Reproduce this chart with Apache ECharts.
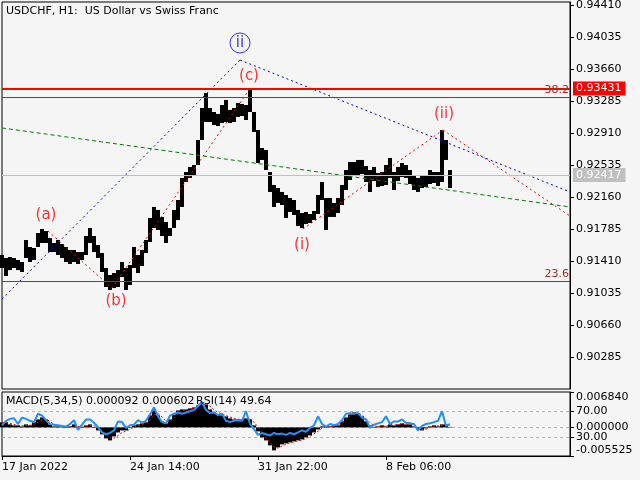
<!DOCTYPE html>
<html><head><meta charset="utf-8">
<script src="https://cdn.jsdelivr.net/npm/echarts@6/dist/echarts.min.js"></script>
<style>html,body{margin:0;padding:0;background:#f5f5f5}#c{width:640px;height:480px}</style>
</head><body><div id="c"></div>
<script>
// ---- data (one drawn bar = 4 H1 bars) ----
const priceHigh = [
0.91480,0.91445,0.91457,0.91445,0.91422,0.91398,0.91656,0.91574,0.91562,0.91738,
0.91785,0.91761,0.91679,0.91621,0.91656,0.91609,0.91574,0.91539,0.91539,0.91515,
0.91515,0.91703,0.91797,0.91703,0.91597,0.91504,0.91328,0.91246,0.91269,0.91304,
0.91398,0.91328,0.91363,0.91574,0.91480,0.91539,0.91656,0.91914,0.92043,0.92008,
0.91926,0.91867,0.91797,0.92008,0.92125,0.92383,0.92453,0.92512,0.92535,0.92828,
0.93203,0.93379,0.93203,0.93156,0.93133,0.93238,0.93297,0.93180,0.93203,0.93262,
0.93250,0.93238,0.93414,0.93156,0.92945,0.92734,0.92711,0.92453,0.92301,0.92265,
0.92219,0.92183,0.92148,0.92125,0.92008,0.91972,0.91984,0.91961,0.91996,0.92183,
0.92336,0.92148,0.92148,0.92090,0.92148,0.92301,0.92476,0.92570,0.92570,0.92594,
0.92594,0.92523,0.92476,0.92512,0.92441,0.92453,0.92535,0.92617,0.92453,0.92512,
0.92558,0.92535,0.92476,0.92406,0.92383,0.92418,0.92406,0.92476,0.92453,0.92453,
0.92945,0.92828,0.92476];
const priceLow = [
0.91328,0.91234,0.91304,0.91328,0.91304,0.91281,0.91445,0.91398,0.91422,0.91574,
0.91621,0.91621,0.91515,0.91515,0.91480,0.91445,0.91398,0.91375,0.91398,0.91375,
0.91422,0.91480,0.91621,0.91515,0.91445,0.91281,0.91105,0.91070,0.91093,0.91105,
0.91222,0.91070,0.91129,0.91328,0.91269,0.91351,0.91504,0.91633,0.91797,0.91773,
0.91703,0.91621,0.91703,0.91797,0.91890,0.92043,0.92336,0.92383,0.92406,0.92535,
0.92828,0.93039,0.93039,0.93004,0.92992,0.93027,0.93039,0.93027,0.93039,0.93098,
0.93109,0.93062,0.93156,0.92922,0.92558,0.92594,0.92476,0.92219,0.92043,0.92090,
0.92066,0.91914,0.91984,0.91949,0.91820,0.91797,0.91844,0.91855,0.91890,0.91961,
0.92125,0.91773,0.91926,0.91926,0.91972,0.92066,0.92242,0.92359,0.92406,0.92406,
0.92429,0.92336,0.92219,0.92347,0.92277,0.92289,0.92301,0.92383,0.92242,0.92347,
0.92394,0.92383,0.92312,0.92242,0.92219,0.92265,0.92277,0.92312,0.92324,0.92289,
0.92336,0.92594,0.92265];
const macdMain = [
0.00097,0.00097,0.00058,0.00039,0.00039,0.00019,0.00058,0.00039,0.00097,0.00154,
0.00193,0.00154,0.00058,0.00019,0.00019,0.0001,0,0.00019,0.00058,-0.00019,
0,0.00039,0.00058,0,-0.00058,-0.00135,-0.00212,-0.00251,-0.00174,-0.00097,
-0.00058,-0.00058,0,0.00039,0.00058,0.00077,0.00097,0.00232,0.00328,0.00232,
0.00116,0.00077,0.00154,0.00251,0.00328,0.00347,0.00347,0.00367,0.00386,0.00425,
0.00483,0.00444,0.00347,0.0029,0.00251,0.00232,0.00212,0.00174,0.00154,0.00154,
0.00154,0.00174,0.00154,0.00039,-0.00077,-0.00193,-0.00251,-0.00347,-0.00444,-0.00386,
-0.00328,-0.00309,-0.0029,-0.0027,-0.00251,-0.00232,-0.00193,-0.00154,-0.00097,-0.00039,
0.00019,0.00019,0.00019,0.00039,0.00039,0.00116,0.00193,0.00251,0.0029,0.0027,
0.00212,0.00116,0.00039,0,0.00019,0.00039,0.00019,0.00058,0.00039,0.00058,
0.00077,0.00058,0.00058,0.00019,-0.00039,-0.00058,-0.00019,0.00019,0.00039,0.00019,
0.00058,0.00058,0.000092];
const macdSignal = [
0.00090,0.00095,0.00080,0.00055,0.00042,0.00030,0.00035,0.00040,0.00060,0.00100,
0.00150,0.00165,0.00115,0.00060,0.00030,0.00015,0.00008,0.00010,0.00030,0.00020,
0.00005,0.00015,0.00035,0.00030,-0.00010,-0.00070,-0.00140,-0.00200,-0.00210,-0.00160,
-0.00100,-0.00070,-0.00035,0.00005,0.00035,0.00060,0.00080,0.00140,0.00240,0.00270,
0.00200,0.00120,0.00120,0.00180,0.00260,0.00320,0.00340,0.00355,0.00370,0.00400,
0.00445,0.00455,0.00410,0.00340,0.00290,0.00255,0.00230,0.00200,0.00170,0.00158,
0.00155,0.00160,0.00160,0.00100,0.00010,-0.00110,-0.00200,-0.00290,-0.00380,-0.00400,
-0.00360,-0.00325,-0.00300,-0.00280,-0.00262,-0.00245,-0.00215,-0.00175,-0.00125,-0.00070,
-0.00015,0.00010,0.00018,0.00028,0.00036,0.00075,0.00150,0.00215,0.00265,0.00275,
0.00240,0.00170,0.00090,0.00030,0.00015,0.00028,0.00028,0.00040,0.00045,0.00050,
0.00065,0.00065,0.00060,0.00040,0.00000,-0.00040,-0.00035,0.00000,0.00025,0.00030,
0.00040,0.00055,0.000602];
const rsiValues = [
48,55,58,59,50,60,58,55,53,66,
63,56,50,49,48,47,46,50,56,41,
49,57,57,52,45,37,34,36,40,54,
53,44,48,49,56,52,55,65,76,62,
53,51,63,66,68,66,68,70,72,78,
84,72,67,68,64,66,55,53,55,56,
55,70,50,42,33,36,34,32,36,34,
35,33,36,34,37,40,38,44,48,62,
50,46,50,48,50,56,66,67,66,67,
60,57,44,49,51,53,62,50,54,54,
57,52,51,50,40,47,50,51,53,55,
70,47,49.64];

const priceTicks = [0.90285,0.90660,0.91035,0.91410,0.91785,0.92160,0.92535,0.92910,0.93285,0.93660,0.94035,0.94410];
const timeTicks = [0,128,256,384];
const timeLabels = ['17 Jan 2022','24 Jan 14:00','31 Jan 22:00','8 Feb 06:00'];
const macdTicks = [-0.005525, 0, 0.006840];
const rsiTicks = [30, 70];

const resistanceLevel = 0.93431;
const lastPrice = 0.92417;
const fibLevels = [0.93332, 0.91176];
const fibNames = ['38.2', '23.6'];

const blueLineA = [[0,0.90965],[238,0.93765]];
const blueLineB = [[238,0.93765],[568,0.92219]];
const greenLine = [[0,0.92969],[568,0.92043]];
const redLineAB = [[46,0.91761],[110,0.91093]];
const redLineBC = [[110,0.91093],[247,0.93414]];
const redLineIII = [[301,0.91785],[441,0.92945]];
const redLineIIOut = [[441,0.92945],[568,0.91937]];

const waveNames = ['(a)','(b)','(c)','(i)','(ii)'];
const waveBars = [44,114,247,300,442];
const wavePrices = [0.91949,0.90941,0.93578,0.91597,0.93133];
const majorWave = {name:'ii', bar:238, price:0.93965};

// ---- build ----
const STEP = 4;
const X_END = 568;
const FONT = 'DejaVu Sans';
const priceData = priceHigh.map((h,i)=>[i*STEP, priceLow[i], h]);
const macdData = macdMain.map((v,i)=>[i*STEP, v]);
const sigData = macdSignal.map((v,i)=>[i*STEP, v]);
const rsiData = rsiValues.map((v,i)=>[i*STEP, v]);

function trend(data, color, dash){
  return {type:'line', xAxisIndex:0, yAxisIndex:0, data, symbol:'none', z:4, silent:true,
    lineStyle:{color, width:1, type:dash}, clip:true};
}
const txt = {fontSize:11, fontWeight:'normal', color:'#000', fontFamily:FONT};

const chart = echarts.init(document.getElementById('c'), null, {renderer:'canvas'});
chart.setOption({
  animation:false,
  backgroundColor:'#f5f5f5',
  textStyle:{fontFamily:FONT},
  title:[
    {text:'USDCHF, H1:  US Dollar vs Swiss Franc', left:6, top:6, padding:0, textStyle:txt},
    {text:'MACD(5,34,5) '+macdMain[macdMain.length-1].toFixed(6)+' '+macdSignal[macdSignal.length-1].toFixed(6),
     left:6, top:396, padding:0, textStyle:txt},
    {text:'RSI(14) '+rsiValues[rsiValues.length-1].toFixed(2), left:196, top:396, padding:0, textStyle:txt}
  ],
  grid:[
    {left:2, right:70, top:2, height:387, show:true, borderColor:'#000', borderWidth:1, outerBoundsMode:'none'},
    {left:2, right:70, top:392, height:64, show:true, borderColor:'#000', borderWidth:1, outerBoundsMode:'none'}
  ],
  xAxis:[
    {type:'value', gridIndex:0, min:0, max:X_END, axisLine:{show:false, onZero:false}, axisTick:{show:false}, axisLabel:{show:false}, splitLine:{show:false}},
    {type:'value', gridIndex:1, min:0, max:X_END, position:'bottom', axisLine:{show:true, onZero:false, lineStyle:{color:'#000'}},
     axisTick:{show:true, customValues:timeTicks, length:4, lineStyle:{color:'#000'}},
     axisLabel:{customValues:timeTicks, formatter:v=>{const k=timeTicks.indexOf(v);return k>=0?timeLabels[k]:'';},
       align:'left', margin:6, color:'#000', fontSize:11, fontFamily:FONT},
     splitLine:{show:false}}
  ],
  yAxis:[
    {type:'value', gridIndex:0, position:'right', min:0.8991, max:0.94445,
     axisLine:{show:true, onZero:false, lineStyle:{color:'#000'}},
     axisTick:{show:false},
     axisLabel:{customValues:priceTicks, formatter:v=>v.toFixed(5), margin:6, color:'#000', fontSize:11, fontFamily:FONT},
     splitLine:{show:false}},
    {type:'value', gridIndex:1, position:'right', min:-0.005525, max:0.00684, offset:0,
     axisLine:{show:true, onZero:false, lineStyle:{color:'#000'}},
     axisTick:{show:true, customValues:macdTicks, length:4, lineStyle:{color:'#000'}},
     axisLabel:{customValues:macdTicks, margin:6, color:'#000', fontSize:11, fontFamily:FONT,
       formatter:v=>{const s=v.toFixed(6); if(v===macdTicks[0]) return '{lo|'+s+'}'; if(v===macdTicks[2]) return '{hi|'+s+'}'; return s;},
       rich:{lo:{padding:[0,0,12,0], fontSize:11, fontFamily:FONT, color:'#000'}, hi:{padding:[10,0,0,0], fontSize:11, fontFamily:FONT, color:'#000'}}},
     splitLine:{show:false}},
    {type:'value', gridIndex:1, position:'right', min:0, max:100, offset:0,
     axisLine:{show:false, onZero:false},
     axisTick:{show:true, customValues:rsiTicks, length:4, lineStyle:{color:'#000'}},
     axisLabel:{customValues:rsiTicks, formatter:v=>v.toFixed(2), margin:6, color:'#000', fontSize:11, fontFamily:FONT},
     splitLine:{show:false}}
  ],
  series:[
    {type:'line', xAxisIndex:0, yAxisIndex:0, data:[[0,lastPrice],[X_END,lastPrice]], symbol:'none', z:2,
     lineStyle:{width:0, opacity:0}, silent:true,
     markLine:{silent:true, symbol:['none','none'], precision:5, animation:false,
       data:[
        {yAxis:lastPrice, lineStyle:{color:'#c0c0c0', width:1, type:'solid'},
         label:{show:true, position:'end', distance:3, formatter:p=>Number(p.value).toFixed(5), color:'#fff', backgroundColor:'#c0c0c0',
                padding:[2,4,1,3], fontSize:11, fontFamily:FONT}},
        {name:fibNames[0], yAxis:fibLevels[0], lineStyle:{color:'#a52a2a', width:1, type:'solid'},
         label:{show:true, position:'insideEndTop', distance:1, formatter:'{b}', color:'#a52a2a', fontSize:11, fontFamily:FONT}},
        {name:fibNames[1], yAxis:fibLevels[1], lineStyle:{color:'#a52a2a', width:1, type:'solid'},
         label:{show:true, position:'insideEndTop', distance:1, formatter:'{b}', color:'#a52a2a', fontSize:11, fontFamily:FONT}},
        {yAxis:resistanceLevel, lineStyle:{color:'#ff0000', width:2, type:'solid'},
         label:{show:true, position:'end', distance:3, formatter:p=>Number(p.value).toFixed(5), color:'#fff', backgroundColor:'#ff0000',
                padding:[2,4,1,3], fontSize:11, fontFamily:FONT}}
       ]}},
    // price-axis tick marks (outside the plot, right of the axis line)
    {type:'custom', xAxisIndex:0, yAxisIndex:0, data:priceTicks.map(t=>[X_END,t]), z:6, silent:true, clip:false,
     encode:{x:0, y:1},
     renderItem:(params, api)=>{
       const p=api.coord([api.value(0), api.value(1)]);
       const y=Math.round(p[1])+0.5;
       return {type:'line', shape:{x1:p[0], y1:y, x2:p[0]+4, y2:y}, style:{stroke:'#000', lineWidth:1}};
     }},
    {type:'custom', xAxisIndex:0, yAxisIndex:0, data:priceData, z:3, silent:true,
     encode:{x:0, y:[1,2]},
     renderItem:(params, api)=>{
       const x=api.value(0), lo=api.value(1), hi=api.value(2);
       const p1=api.coord([x,hi]), p2=api.coord([x,lo]);
       const w=api.size([STEP,0])[0];
       return {type:'rect', shape:{x:p1[0]-w/2, y:p1[1], width:w, height:Math.max(1,p2[1]-p1[1])}, style:{fill:'#000'}};
     }},
    trend(blueLineA,'#0000ff',[2,3]),
    trend(blueLineB,'#0000ff',[2,3]),
    trend(greenLine,'#008000',[4,3]),
    trend(redLineAB,'#ff0000',[2,3]),
    trend(redLineBC,'#ff0000',[2,3]),
    trend(redLineIII,'#ff0000',[2,3]),
    trend(redLineIIOut,'#ff0000',[2,3]),
    {type:'scatter', xAxisIndex:0, yAxisIndex:0, z:5, silent:true, symbolSize:1,
     itemStyle:{color:'rgba(0,0,0,0)'},
     data:waveNames.map((n,i)=>({name:n, value:[waveBars[i], wavePrices[i]]})),
     label:{show:true, position:'inside', formatter:'{b}', color:'#ff0000', fontSize:15, fontFamily:FONT}},
    {type:'scatter', xAxisIndex:0, yAxisIndex:0, z:5, silent:true, symbol:'circle', symbolSize:20,
     itemStyle:{color:'rgba(0,0,0,0)', borderColor:'#0000ff', borderWidth:1},
     data:[{name:majorWave.name, value:[majorWave.bar, majorWave.price]}],
     label:{show:true, position:'inside', formatter:'{b}', color:'#0000ff', fontSize:15, fontFamily:FONT}},
    {type:'custom', xAxisIndex:1, yAxisIndex:1, data:macdData, z:2, silent:true,
     encode:{x:0, y:1},
     renderItem:(params, api)=>{
       const x=api.value(0), v=api.value(1);
       const p0=api.coord([x,0]), p1=api.coord([x,v]);
       const w=api.size([STEP,0])[0];
       const top=Math.min(p0[1],p1[1]);
       return {type:'rect', shape:{x:p0[0]-w/2, y:top, width:w, height:Math.max(0.5,Math.abs(p1[1]-p0[1]))}, style:{fill:'#000'}};
     }},
    {type:'line', xAxisIndex:1, yAxisIndex:1, data:sigData, symbol:'none', z:3, silent:true,
     lineStyle:{color:'#ff0000', width:1, type:[2,2]},
     markLine:{silent:true, symbol:['none','none'], label:{show:false}, z:1,
       lineStyle:{color:'#b4b4b4', width:1, type:[3,3]}, data:[{yAxis:0}]}},
    {type:'line', xAxisIndex:1, yAxisIndex:2, data:rsiData, symbol:'none', z:4, silent:true,
     lineStyle:{color:'#1e90ff', width:2},
     markLine:{silent:true, symbol:['none','none'], label:{show:false}, z:1,
       lineStyle:{color:'#b4b4b4', width:1, type:[3,3]}, data:[{yAxis:rsiTicks[1]},{yAxis:rsiTicks[0]}]}}
  ]
});
</script></body></html>
